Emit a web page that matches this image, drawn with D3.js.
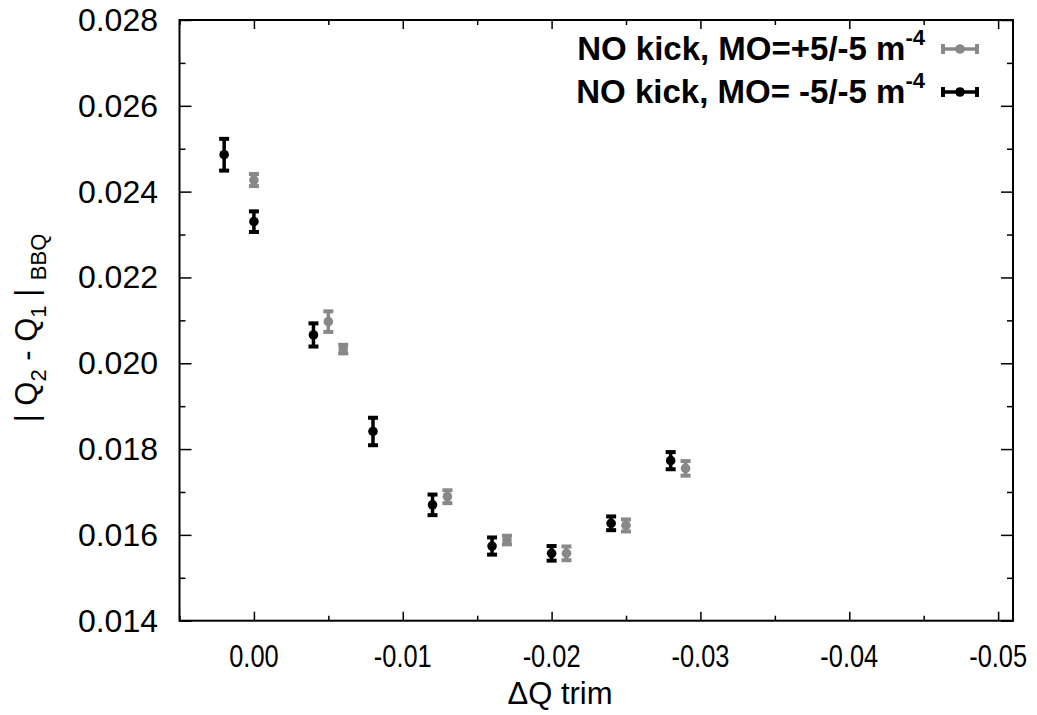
<!DOCTYPE html>
<html>
<head>
<meta charset="utf-8">
<script src="https://cdn.jsdelivr.net/npm/d3@7"></script>
<style>
  body { margin: 0; background: #fff; }
  svg { font-family: "Liberation Sans", Arial, sans-serif; }
</style>
</head>
<body>
<svg id="chart" width="1037" height="715"></svg>
<script>
// series: MO=+5/-5 (grey)
var trim_plus = [0.000, -0.005, -0.006, -0.013, -0.017, -0.021, -0.025, -0.029]
var split_plus = [0.02427, 0.02097, 0.02033, 0.01689, 0.01588, 0.01557, 0.01622, 0.01755]
var err_plus = [0.00014, 0.00024, 0.00010, 0.00015, 0.00010, 0.00016, 0.00014, 0.00017]
// series: MO=-5/-5 (black)
var trim_minus = [0.002, 0.000, -0.004, -0.008, -0.012, -0.016, -0.020, -0.024, -0.028]
var split_minus = [0.02486, 0.02330, 0.02066, 0.01841, 0.01670, 0.01574, 0.01557, 0.01627, 0.01773]
var err_minus = [0.00037, 0.00024, 0.00027, 0.00032, 0.00024, 0.00020, 0.00017, 0.00016, 0.00020]

var x_ticks = [0.00, -0.01, -0.02, -0.03, -0.04, -0.05]
var x_minor = [0.005, -0.005, -0.015, -0.025, -0.035, -0.045]
var y_ticks = [0.014, 0.016, 0.018, 0.020, 0.022, 0.024, 0.026, 0.028]
var y_minor = [0.015, 0.017, 0.019, 0.021, 0.023, 0.025, 0.027]

var legend_labels = ['NO kick, MO=+5/-5 m', 'NO kick, MO= -5/-5 m']
var series_colors = ['#888888', '#000000']

// plot frame (window.top is reserved, hence the prefix)
var p_left = 179.5, p_right = 1013, p_top = 20, p_bottom = 620.7

var x = d3.scaleLinear().domain([0.005, -0.051]).range([p_left, p_right])
var y = d3.scaleLinear().domain([0.014, 0.028]).range([p_bottom, p_top])

var svg = d3.select('#chart')

function tick_axis(axis_fn, scale, ticks, len, tr) {
    var g = svg.append('g').attr('transform', tr)
        .call(axis_fn(scale).tickValues(ticks).tickSize(len).tickFormat(''))
    g.select('.domain').remove()
    g.selectAll('line').attr('stroke', '#000').attr('stroke-width', 1.5)
    return g
}

// ticks drawn inward on all four sides
tick_axis(d3.axisTop, x, x_ticks, 9, 'translate(0,' + p_bottom + ')')
tick_axis(d3.axisTop, x, x_minor, 5, 'translate(0,' + p_bottom + ')')
tick_axis(d3.axisBottom, x, x_ticks, 9, 'translate(0,' + p_top + ')')
tick_axis(d3.axisBottom, x, x_minor, 5, 'translate(0,' + p_top + ')')
tick_axis(d3.axisRight, y, y_ticks, 12, 'translate(' + p_left + ',0)')
tick_axis(d3.axisRight, y, y_minor, 6, 'translate(' + p_left + ',0)')
tick_axis(d3.axisLeft, y, y_ticks, 12, 'translate(' + p_right + ',0)')
tick_axis(d3.axisLeft, y, y_minor, 6, 'translate(' + p_right + ',0)')

svg.append('rect')
    .attr('x', p_left).attr('y', p_top)
    .attr('width', p_right - p_left).attr('height', p_bottom - p_top)
    .attr('fill', 'none').attr('stroke', '#000').attr('stroke-width', 2)

// tick labels
svg.append('g').selectAll('text')
    .data(x_ticks)
    .enter().append('text')
        .attr('transform', function(d) { return 'translate(' + x(d) + ',667) scale(0.82,1)' })
        .attr('text-anchor', 'middle')
        .style('font-size', '31px')
        .text(function(d) { return d3.format('.2f')(d).replace('−', '-') })

svg.append('g').selectAll('text')
    .data(y_ticks)
    .enter().append('text')
        .attr('x', 158)
        .attr('y', function(d) { return y(d) + 11 })
        .attr('text-anchor', 'end')
        .style('font-size', '32px')
        .text(function(d) { return d3.format('.3f')(d) })

// axis titles
svg.append('text')
    .attr('x', 560).attr('y', 704)
    .attr('text-anchor', 'middle')
    .style('font-size', '31px')
    .text('ΔQ trim')

var yt = svg.append('text')
    .attr('transform', 'translate(37,328) rotate(-90)')
    .attr('text-anchor', 'middle')
    .style('font-size', '31px')
yt.append('tspan').text('| Q')
yt.append('tspan').attr('dy', 9).style('font-size', '22px').text('2')
yt.append('tspan').attr('dy', -9).text(' - Q')
yt.append('tspan').attr('dy', 9).style('font-size', '22px').text('1')
yt.append('tspan').attr('dy', -9).text(' | ')
yt.append('tspan').attr('dy', 9).style('font-size', '22px').text('BBQ')

// error bars + points
function draw_series(xs, ys, es, color) {
    var g = svg.append('g')
    var pts = d3.range(xs.length).map(function(i) { return {x: xs[i], y: ys[i], e: es[i]} })
    var cap = 5
    g.selectAll('line.bar').data(pts).enter().append('line')
        .attr('x1', function(d) { return x(d.x) }).attr('x2', function(d) { return x(d.x) })
        .attr('y1', function(d) { return y(d.y - d.e) }).attr('y2', function(d) { return y(d.y + d.e) })
        .attr('stroke', color).attr('stroke-width', 3.5)
    ;['lo', 'hi'].forEach(function(k) {
        g.selectAll('line.cap' + k).data(pts).enter().append('line')
            .attr('x1', function(d) { return x(d.x) - cap }).attr('x2', function(d) { return x(d.x) + cap })
            .attr('y1', function(d) { return y(k == 'lo' ? d.y - d.e : d.y + d.e) })
            .attr('y2', function(d) { return y(k == 'lo' ? d.y - d.e : d.y + d.e) })
            .attr('stroke', color).attr('stroke-width', 4)
    })
    g.selectAll('circle').data(pts).enter().append('circle')
        .attr('cx', function(d) { return x(d.x) })
        .attr('cy', function(d) { return y(d.y) })
        .attr('r', 4.8)
        .attr('fill', color)
}
draw_series(trim_plus, split_plus, err_plus, series_colors[0])
draw_series(trim_minus, split_minus, err_minus, series_colors[1])

// legend
var leg = svg.append('g').selectAll('g')
    .data(legend_labels)
    .enter().append('g')
        .attr('transform', function(d, i) { return 'translate(0,' + (49 + i * 43) + ')' })
var lt = leg.append('text')
    .attr('x', 925).attr('y', 11)
    .attr('text-anchor', 'end')
    .style('font-size', '33px').style('font-weight', 'bold')
lt.append('tspan').text(function(d) { return d })
lt.append('tspan').attr('dy', -15).style('font-size', '22px').text('-4')
leg.append('line')
    .attr('x1', 943).attr('x2', 977).attr('y1', 0).attr('y2', 0)
    .attr('stroke', function(d, i) { return series_colors[i] }).attr('stroke-width', 3.5)
;[943, 977].forEach(function(cx) {
    leg.append('line')
        .attr('x1', cx).attr('x2', cx).attr('y1', -5).attr('y2', 5)
        .attr('stroke', function(d, i) { return series_colors[i] }).attr('stroke-width', 4)
})
leg.append('circle')
    .attr('cx', 960).attr('cy', 0).attr('r', 4.8)
    .attr('fill', function(d, i) { return series_colors[i] })
</script>
</body>
</html>
